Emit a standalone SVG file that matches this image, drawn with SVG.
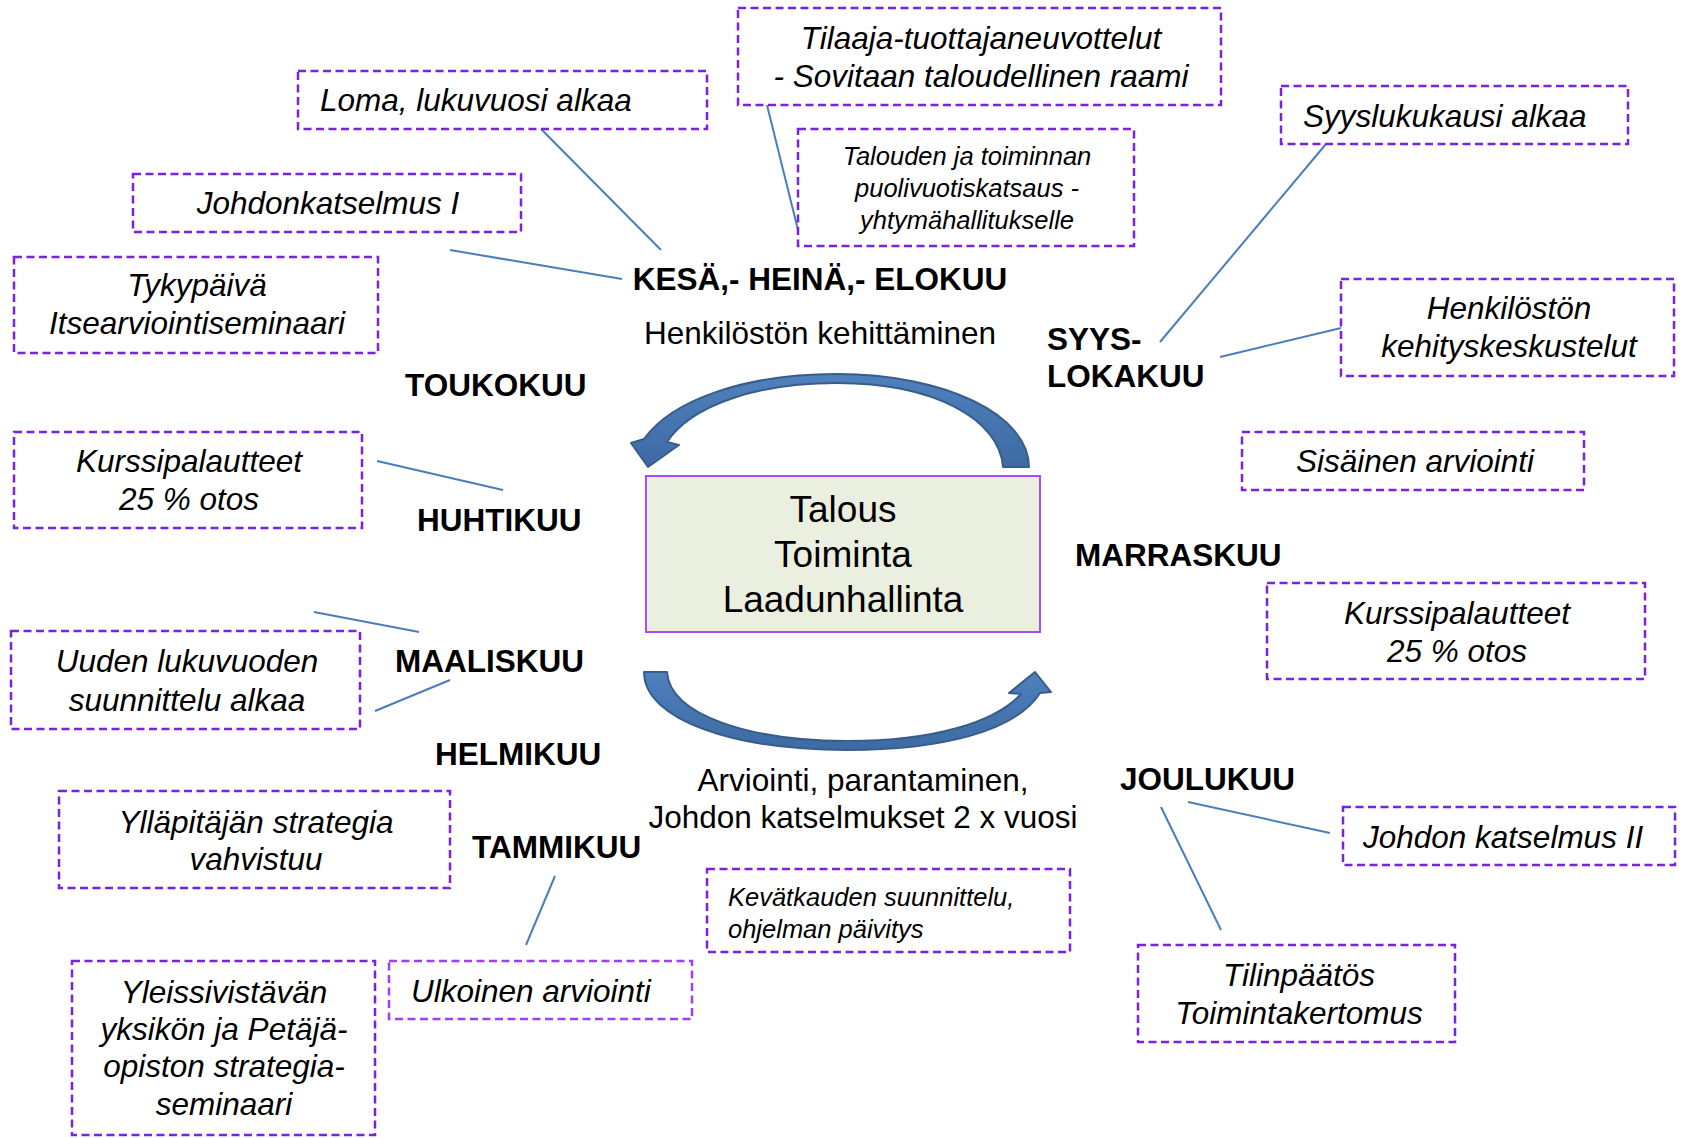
<svg xmlns="http://www.w3.org/2000/svg" width="1681" height="1138" viewBox="0 0 1681 1138">
<style>
.box{fill:none;stroke:#7a22e0;stroke-width:2.5;stroke-dasharray:8 4.5}
.box2{fill:none;stroke:#9b40ff;stroke-width:2.5;stroke-dasharray:8 4.5}
.it{font-family:"Liberation Sans",Arial,sans-serif;font-style:italic;font-size:31.5px;fill:#000}
.its{font-family:"Liberation Sans",Arial,sans-serif;font-style:italic;font-size:25.5px;fill:#000}
.mo{font-family:"Liberation Sans",Arial,sans-serif;font-weight:bold;font-size:31.5px;fill:#000}
.tx{font-family:"Liberation Sans",Arial,sans-serif;font-size:31.5px;fill:#000}
.ctr{font-family:"Liberation Sans",Arial,sans-serif;font-size:37px;fill:#000}
.conn line{stroke:#4a7ebb;stroke-width:2}
.arrow{fill:url(#ag);stroke:#385d8a;stroke-width:2;stroke-linejoin:round}
</style>
<defs>
<linearGradient id="ag" x1="0" y1="0" x2="0" y2="1">
<stop offset="0" stop-color="#4f81bd"/>
<stop offset="1" stop-color="#3d6aa3"/>
</linearGradient>
</defs>
<rect width="1681" height="1138" fill="#fff"/>

<g id="connectors" class="conn">
<line x1="541" y1="129" x2="661" y2="250"/>
<line x1="450" y1="250" x2="622" y2="279"/>
<line x1="767" y1="105" x2="798" y2="230"/>
<line x1="1326" y1="144" x2="1160" y2="342"/>
<line x1="1220" y1="357" x2="1341" y2="328"/>
<line x1="377" y1="461" x2="503" y2="490"/>
<line x1="314" y1="612" x2="419" y2="632"/>
<line x1="375" y1="711" x2="450" y2="680"/>
<line x1="555" y1="876" x2="526" y2="945"/>
<line x1="1188" y1="802" x2="1330" y2="833"/>
<line x1="1161" y1="807" x2="1221" y2="930"/>
</g>

<g id="cycle-arrows">
<path class="arrow" d="M1029,467 C1029,415 945,374 837,374 C745,374 672,400 644,439 L631,443 L648,467 L679,445 L667,442 C692,404 760,383 837,383 C935,383 1000,420 1003,467 Z"/>
<path class="arrow" d="M644,672 L667,672 C670,715 750,741 847,741 C935,741 995,722 1021,694 L1009,693 L1035,672 L1051,692 L1040,693 C1015,732 940,750 847,750 C735,750 644,720 644,672 Z"/>
</g>

<g id="center">
<rect x="646" y="476" width="394" height="156" fill="#ebefdf" stroke="#a64dff" stroke-width="2"/>
<text class="ctr" text-anchor="middle" x="843" y="522">Talous</text>
<text class="ctr" text-anchor="middle" x="843" y="567">Toiminta</text>
<text class="ctr" text-anchor="middle" x="843" y="612">Laadunhallinta</text>
</g>

<g id="label-kesa"><text class="mo" text-anchor="middle" x="820" y="290">KESÄ,- HEINÄ,- ELOKUU</text></g>
<g id="label-henkilosto"><text class="tx" text-anchor="middle" x="820" y="344">Henkilöstön kehittäminen</text></g>
<g id="label-syys"><text class="mo" x="1047" y="350">SYYS-</text><text class="mo" x="1047" y="387">LOKAKUU</text></g>
<g id="label-touko"><text class="mo" x="405" y="396">TOUKOKUU</text></g>
<g id="label-huhti"><text class="mo" x="417" y="531">HUHTIKUU</text></g>
<g id="label-maalis"><text class="mo" x="395" y="672">MAALISKUU</text></g>
<g id="label-helmi"><text class="mo" x="435" y="765">HELMIKUU</text></g>
<g id="label-tammi"><text class="mo" x="472" y="858">TAMMIKUU</text></g>
<g id="label-marras"><text class="mo" x="1075" y="566">MARRASKUU</text></g>
<g id="label-joulu"><text class="mo" x="1120" y="790">JOULUKUU</text></g>
<g id="label-arviointi">
<text class="tx" text-anchor="middle" x="863" y="791">Arviointi, parantaminen,</text>
<text class="tx" text-anchor="middle" x="863" y="828">Johdon katselmukset 2 x vuosi</text>
</g>

<g id="box-tilaaja">
<rect class="box" x="738" y="8" width="483" height="97"/>
<text class="it" text-anchor="middle" x="981" y="49">Tilaaja-tuottajaneuvottelut</text>
<text class="it" text-anchor="middle" x="981" y="87">- Sovitaan taloudellinen raami</text>
</g>
<g id="box-loma">
<rect class="box" x="298" y="71" width="409" height="58"/>
<text class="it" x="320" y="111">Loma, lukuvuosi alkaa</text>
</g>
<g id="box-talouden">
<rect class="box" x="798" y="129" width="336" height="117"/>
<text class="its" text-anchor="middle" x="967" y="165">Talouden ja toiminnan</text>
<text class="its" text-anchor="middle" x="967" y="197">puolivuotiskatsaus -</text>
<text class="its" text-anchor="middle" x="967" y="229">yhtymähallitukselle</text>
</g>
<g id="box-johdonkatselmus1">
<rect class="box" x="133" y="174" width="388" height="58"/>
<text class="it" text-anchor="middle" x="328" y="214">Johdonkatselmus I</text>
</g>
<g id="box-tykypaiva">
<rect class="box" x="14" y="257" width="364" height="96"/>
<text class="it" text-anchor="middle" x="197" y="296">Tykypäivä</text>
<text class="it" text-anchor="middle" x="197" y="334">Itsearviointiseminaari</text>
</g>
<g id="box-syyslukukausi">
<rect class="box" x="1281" y="86" width="347" height="58"/>
<text class="it" x="1303" y="127">Syyslukukausi alkaa</text>
</g>
<g id="box-kehityskeskustelut">
<rect class="box" x="1341" y="279" width="333" height="97"/>
<text class="it" text-anchor="middle" x="1509" y="319">Henkilöstön</text>
<text class="it" text-anchor="middle" x="1509" y="357">kehityskeskustelut</text>
</g>
<g id="box-sisainen">
<rect class="box" x="1242" y="432" width="342" height="58"/>
<text class="it" text-anchor="middle" x="1415" y="472">Sisäinen arviointi</text>
</g>
<g id="box-kurssipalautteet-oikea">
<rect class="box" x="1267" y="583" width="378" height="96"/>
<text class="it" text-anchor="middle" x="1457" y="624">Kurssipalautteet</text>
<text class="it" text-anchor="middle" x="1457" y="662">25 % otos</text>
</g>
<g id="box-kurssipalautteet-vasen">
<rect class="box" x="14" y="432" width="348" height="96"/>
<text class="it" text-anchor="middle" x="189" y="472">Kurssipalautteet</text>
<text class="it" text-anchor="middle" x="189" y="510">25 % otos</text>
</g>
<g id="box-uuden">
<rect class="box" x="11" y="631" width="349" height="98"/>
<text class="it" text-anchor="middle" x="187" y="672">Uuden lukuvuoden</text>
<text class="it" text-anchor="middle" x="187" y="711">suunnittelu alkaa</text>
</g>
<g id="box-yllapitaja">
<rect class="box" x="59" y="791" width="391" height="97"/>
<text class="it" text-anchor="middle" x="256" y="833">Ylläpitäjän strategia</text>
<text class="it" text-anchor="middle" x="256" y="870">vahvistuu</text>
</g>
<g id="box-yleissivistava">
<rect class="box" x="72" y="961" width="303" height="174"/>
<text class="it" text-anchor="middle" x="224" y="1003">Yleissivistävän</text>
<text class="it" text-anchor="middle" x="224" y="1040">yksikön ja Petäjä-</text>
<text class="it" text-anchor="middle" x="224" y="1077">opiston strategia-</text>
<text class="it" text-anchor="middle" x="224" y="1115">seminaari</text>
</g>
<g id="box-ulkoinen">
<rect class="box2" x="389" y="961" width="303" height="58"/>
<text class="it" x="411" y="1002">Ulkoinen arviointi</text>
</g>
<g id="box-kevatkausi">
<rect class="box" x="707" y="869" width="363" height="83"/>
<text class="its" x="728" y="906">Kevätkauden suunnittelu,</text>
<text class="its" x="728" y="938">ohjelman päivitys</text>
</g>
<g id="box-johdonkatselmus2">
<rect class="box" x="1343" y="807" width="332" height="58"/>
<text class="it" x="1363" y="848">Johdon katselmus II</text>
</g>
<g id="box-tilinpaatos">
<rect class="box" x="1138" y="945" width="317" height="97"/>
<text class="it" text-anchor="middle" x="1299" y="986">Tilinpäätös</text>
<text class="it" text-anchor="middle" x="1299" y="1024">Toimintakertomus</text>
</g>
</svg>
